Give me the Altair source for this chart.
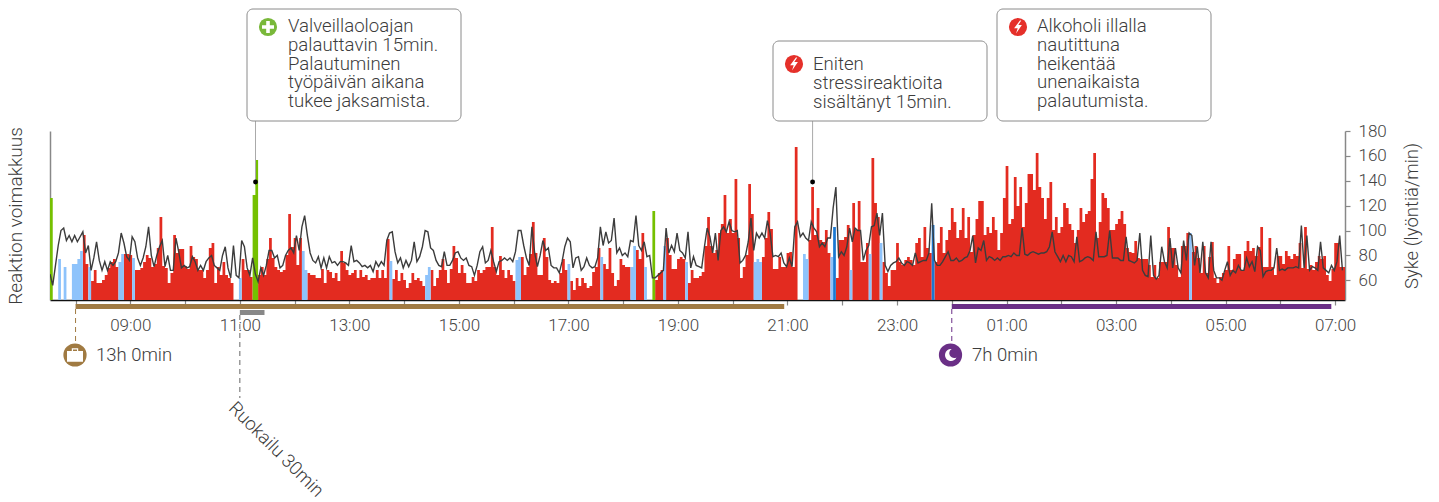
import altair as alt
import pandas as pd

FONT = "Roboto"
TEXT = "#3c3c3c"
RED, BLUE, DARK, GREEN = "#e32b20", "#8ec3fb", "#1a78d2", "#75c000"
BROWN, PURPLE, GRAY = "#a07a42", "#6a2f86", "#888888"

start_hour = 7.5333
end_hour = 31.18
step_hours = 0.05

bar_heights = [
    102,0,0,41,0,33,0,0,36,36, 41,49,65,36,33,19,30,17,17,20,
    25,32,38,41,33,38,46,46,46,45, 42,30,30,32,38,45,42,33,36,52,
    83,34,32,17,27,65,47,51,51,34, 31,54,43,41,30,30,22,30,52,57,
    17,33,25,38,25,22,17,0,0,22, 41,30,30,23,105,140,25,33,25,41,
    62,42,33,30,28,30,45,86,53,62, 35,62,49,30,27,25,25,22,22,31,
    17,30,28,22,27,19,49,37,30,25, 27,30,22,30,23,25,20,22,22,30,
    22,30,22,61,39,21,30,19,27,20, 12,17,27,20,22,19,14,25,33,30,
    14,22,30,41,30,17,31,54,42,27, 35,27,17,17,23,19,30,27,30,33,
    33,73,33,25,44,30,22,30,25,19, 40,43,43,25,33,46,78,47,25,25,
    62,43,20,17,19,17,27,41,30,36, 19,10,22,14,22,17,12,14,28,33,
    52,43,36,31,52,27,14,20,41,35, 33,33,33,54,50,41,67,33,0,0,
    89,20,27,30,54,62,45,31,31,41, 43,41,38,17,30,22,22,24,28,54,
    83,54,47,50,67,76,105,67,81,67, 121,62,22,33,45,116,86,38,41,38,
    43,62,88,71,31,31,43,33,33,47, 48,33,153,0,0,46,41,60,113,65,
    92,60,58,70,47,43,73,22,60,60, 63,75,30,97,70,99,38,38,57,46,
    142,97,83,57,38,27,14,30,30,57, 38,35,40,43,40,35,57,62,43,73,
    52,47,75,38,57,73,47,60,70,92, 78,62,70,92,62,83,48,65,81,99,
    99,65,73,67,83,70,50,67,102,134, 76,81,123,94,113,73,97,126,126,110,
    147,113,102,81,102,118,70,83,67,73, 97,92,76,70,57,70,92,78,86,89,
    121,147,62,78,107,102,92,70,70,76, 81,89,76,52,48,47,59,42,41,41,
    41,35,23,35,22,38,38,38,73,52, 52,35,23,54,54,67,67,48,54,42,
    27,54,27,43,58,22,17,23,27,30, 54,30,41,46,46,30,49,59,49,52,
    44,53,73,33,33,62,33,25,44,44, 36,49,44,41,46,44,57,32,73,31,
    35,30,38,44,41,44,25,19,31,57, 57,33,33,
]

heart_rate = [
    65,56,72,88,100,102,92,96,91,96, 91,95,99,82,88,68,78,91,76,68,
    75,68,75,72,75,82,98,90,79,76, 95,91,78,72,78,87,103,80,71,80,
    87,92,71,80,68,68,94,83,70,72, 70,71,79,75,68,72,68,75,78,80,
    72,70,68,80,87,70,62,88,64,62, 92,87,70,64,78,65,59,70,64,72,
    84,84,78,80,70,72,80,84,86,82, 96,84,103,112,96,82,76,74,79,70,
    78,70,79,74,75,72,75,75,74,72, 88,75,76,74,71,72,70,72,67,75,
    71,75,72,92,98,99,83,74,78,70, 76,71,76,91,75,79,87,100,99,86,
    84,76,72,71,83,72,72,76,82,83, 78,76,78,72,71,64,72,83,87,74,
    76,84,75,67,75,76,78,76,78,75, 83,100,100,88,78,72,103,82,71,80,
    92,84,86,72,70,70,66,75,87,94, 91,70,78,79,68,71,78,72,70,71,
    78,103,88,99,90,92,110,82,86,80, 82,79,92,91,112,88,84,91,79,80,
    62,62,64,66,68,102,82,88,83,98, 84,82,78,99,70,79,72,71,70,87,
    102,95,82,98,76,100,103,99,107,100, 99,100,74,76,80,91,110,84,98,94,
    98,94,108,98,79,80,79,82,74,71, 78,71,103,107,95,98,94,92,107,102,
    99,87,90,87,94,94,118,135,79,83, 80,87,102,91,102,100,100,76,84,88,
    103,104,114,96,114,72,67,72,74,75, 78,74,72,75,74,72,82,74,75,76,
    76,82,122,76,72,72,75,79,83,76, 76,78,75,76,78,79,84,96,74,86,
    84,92,76,79,78,76,78,76,79,79, 80,79,82,80,80,102,81,80,82,83,
    82,81,82,82,83,87,99,83,79,75, 80,75,80,79,75,95,75,76,78,79,
    78,76,99,79,79,79,80,100,78,78, 78,76,76,95,76,75,74,76,98,68,
    64,63,96,64,61,64,87,75,70,94, 70,86,70,66,92,76,98,96,72,87,
    66,91,66,62,91,68,62,62,60,68, 75,64,68,66,72,68,68,78,71,75,
    67,87,84,63,67,68,68,70,86,68, 69,68,70,70,70,71,70,104,70,96,
    68,71,70,68,91,70,68,66,72,68, 75,96,68,
]

blue_bars = [3,5,8,9,10,11,14,25,26,30,69,92,93,124,137,138,170,171,189,201,
             212,213,217,224,232,257,258,259,275,276,285,292,299,303,416]
dark_bars = [286,322]
green_bars = [0,74,75,220]

hour_ticks = list(range(8, 32))
work_span = (8.0, 20.94)
sleep_span = (24.0, 30.93)
meal_span = (11.0, 11.45)

note_recovery = ["Valveillaoloajan", "palauttavin 15min.", "Palautuminen", "työpäivän aikana", "tukee jaksamista."]
note_stress = ["Eniten", "stressireaktioita", "sisältänyt 15min."]
note_alcohol = ["Alkoholi illalla", "nautittuna", "heikentää", "unenaikaista", "palautumista."]
note_anchor_hours = [11.286, 21.458]

def kind(i):
    if i in blue_bars:
        return "blue"
    if i in dark_bars:
        return "dark"
    if i in green_bars:
        return "green"
    return "red"

n = min(len(bar_heights), len(heart_rate))
# one stepped outline per colour, so that neighbouring bars join without seams
rows = []
for k in ["red", "blue", "dark", "green"]:
    for i in range(n + 1):
        h = bar_heights[i] if i < n and kind(i) == k else 0
        rows.append({"t": start_hour + i * step_hours, "h": h, "base": 0, "kind": k})
bars_df = pd.DataFrame(rows)
hr_df = pd.DataFrame({"t": [start_hour + i * step_hours for i in range(n)], "bpm": heart_rate[:n]})

X = alt.Scale(domain=[start_hour, end_hour], nice=False, zero=False)
label_expr = "datum.value % 2 == 1 ? (datum.value % 24 < 10 ? '0' : '') + (datum.value % 24) + ':00' : ''"
X_AXIS = alt.Axis(
    values=hour_ticks, labelExpr=label_expr, labelOverlap=False, grid=False, title=None,
    domainColor="#111111", domainWidth=1.5, tickColor="#888888", tickSize=5, tickWidth=1.2,
    labelFont=FONT, labelFontWeight=300, labelFontSize=17, labelColor="#444444", labelPadding=12)

def xenc():
    return alt.X("t:Q", scale=X, axis=X_AXIS)

kind_scale = alt.Scale(domain=["red", "blue", "dark", "green"], range=[RED, BLUE, DARK, GREEN])

bars = alt.Chart(bars_df).mark_area(clip=True, interpolate="step-after").encode(
    x=xenc(),
    y=alt.Y("h:Q", stack=None, scale=alt.Scale(domain=[0, 169], nice=False), title="Reaktion voimakkuus", axis=alt.Axis(
        orient="left", ticks=False, labels=False, grid=False, domainColor="#888888", domainWidth=1.5,
        titleFont=FONT, titleFontWeight=300, titleFontSize=19, titleColor=TEXT, titleX=-25)),
    y2="base:Q",
    color=alt.Color("kind:N", legend=None, scale=kind_scale),
)

line = alt.Chart(hr_df).mark_line(color="#3c3c3c", strokeWidth=1.4, clip=True).encode(
    x=xenc(),
    y=alt.Y("bpm:Q", scale=alt.Scale(domain=[44.2, 180], nice=False, zero=False),
            title="Syke (lyöntiä/min)", axis=alt.Axis(
                orient="right", values=[60, 80, 100, 120, 140, 160, 180], grid=False,
                domainColor="#888888", domainWidth=1.5, tickColor="#888888", tickSize=5, tickWidth=1.2,
                labelFont=FONT, labelFontWeight=300, labelFontSize=17, labelColor="#444444", labelPadding=8,
                titleFont=FONT, titleFontWeight=300, titleFontSize=18.5, titleColor=TEXT,
                titleAngle=270, titleX=76)),
)

def sx(px):
    return px - 50

def sy(px):
    return px - 131

one = alt.Data(values=[{"a": 1}])

def box(x0, x1, y0, y1):
    return alt.Chart(one).mark_rect(fill="white", stroke="#8a8a8a", strokeWidth=1, cornerRadius=6).encode(
        x=alt.value(sx(x0)), x2=alt.value(sx(x1)), y=alt.value(sy(y0)), y2=alt.value(sy(y1)))

def lines(x, y, txt):
    return alt.Chart(one).mark_text(text=txt, align="left", baseline="alphabetic", font=FONT, fontWeight=300,
                                    fontSize=18.6, lineHeight=18.75, color=TEXT).encode(
        x=alt.value(sx(x)), y=alt.value(sy(y)))

def symbol(x, y, shape, size, color):
    return alt.Chart(one).mark_point(shape=shape, size=size, filled=True, fill=color, opacity=1, strokeWidth=0).encode(
        x=alt.value(sx(x)), y=alt.value(sy(y)))

PLUS = "M-0.3,-1 H0.3 V-0.3 H1 V0.3 H0.3 V1 H-0.3 V0.3 H-1 V-0.3 H-0.3 Z"
BOLT = "M0.3,-1 L-0.6,0.2 L-0.05,0.2 L-0.3,1 L0.6,-0.3 L0.05,-0.3 L0.5,-1 Z"
CASE = "M-1,-0.5 H-0.4 V-0.85 H0.4 V-0.5 H1 V0.85 H-1 Z M-0.25,-0.7 V-0.5 H0.25 V-0.7 Z"
MOON = "M0.2,-1 A1,1 0 1 0 1,0.4 A0.8,0.8 0 1 1 0.2,-1 Z"

connector = alt.Chart(pd.DataFrame({"t": note_anchor_hours})).mark_rule(color="#aaaaaa", strokeWidth=1).encode(
    x=xenc(), y=alt.value(sy(121)), y2=alt.value(sy(182)))
dot = alt.Chart(pd.DataFrame({"t": note_anchor_hours})).mark_point(
    shape="circle", size=24, filled=True, fill="#000000", opacity=1, strokeWidth=0).encode(
    x=xenc(), y=alt.value(sy(182)))

def span(sp, y0, y1, color):
    return alt.Chart(pd.DataFrame({"t": [sp[0]], "t2": [sp[1]]})).mark_rect(color=color).encode(
        x=xenc(), x2="t2:Q", y=alt.value(sy(y0)), y2=alt.value(sy(y1)))

def dash(t, y0, y1, color):
    return alt.Chart(pd.DataFrame({"t": [t]})).mark_rule(color=color, strokeWidth=1, strokeDash=[5, 4]).encode(
        x=xenc(), y=alt.value(sy(y0)), y2=alt.value(sy(y1)))

def label(x, y, txt, **kw):
    return alt.Chart(one).mark_text(text=txt, align="left", baseline="middle", font=FONT, fontWeight=300,
                                    fontSize=18.5, color=TEXT, **kw).encode(
        x=alt.value(sx(x)), y=alt.value(sy(y)))

chart = alt.layer(
    bars, line,
    connector, dot,
    box(247, 461, 9, 121), lines(288, 32, note_recovery),
    symbol(268, 27, "circle", 330, "#79b83a"), symbol(268, 27, PLUS, 144, "white"),
    box(773, 987, 41, 121), lines(813, 70, note_stress),
    symbol(794, 64, "circle", 330, "#e5302a"), symbol(794, 64, BOLT, 169, "white"),
    box(997, 1211, 9, 121), lines(1037, 32, note_alcohol),
    symbol(1018, 27, "circle", 330, "#e5302a"), symbol(1018, 27, BOLT, 169, "white"),
    span(work_span, 304, 309, BROWN), span(sleep_span, 304, 309, PURPLE), span(meal_span, 310, 315, GRAY),
    dash(work_span[0], 309, 342, BROWN), dash(sleep_span[0], 309, 342, PURPLE), dash(meal_span[0], 315, 398, "#666666"),
    symbol(75, 355, "circle", 540, BROWN), symbol(75, 355, CASE, 256, "white"),
    symbol(950.5, 355, "circle", 540, PURPLE), symbol(950.5, 355, MOON, 144, "white"),
    label(96, 355, "13h 0min"), label(972, 355, "7h 0min"),
    label(232, 405, "Ruokailu 30min", angle=45),
).resolve_scale(y="independent").properties(
    width=1295, height=169,
    autosize=alt.AutoSizeParams(type="none"),
    padding={"left": 42, "top": 123, "right": 86, "bottom": 198},
    background="white",
).configure_view(stroke=None)

chart.save("out.html", embed_options={"renderer": "svg", "actions": False})
